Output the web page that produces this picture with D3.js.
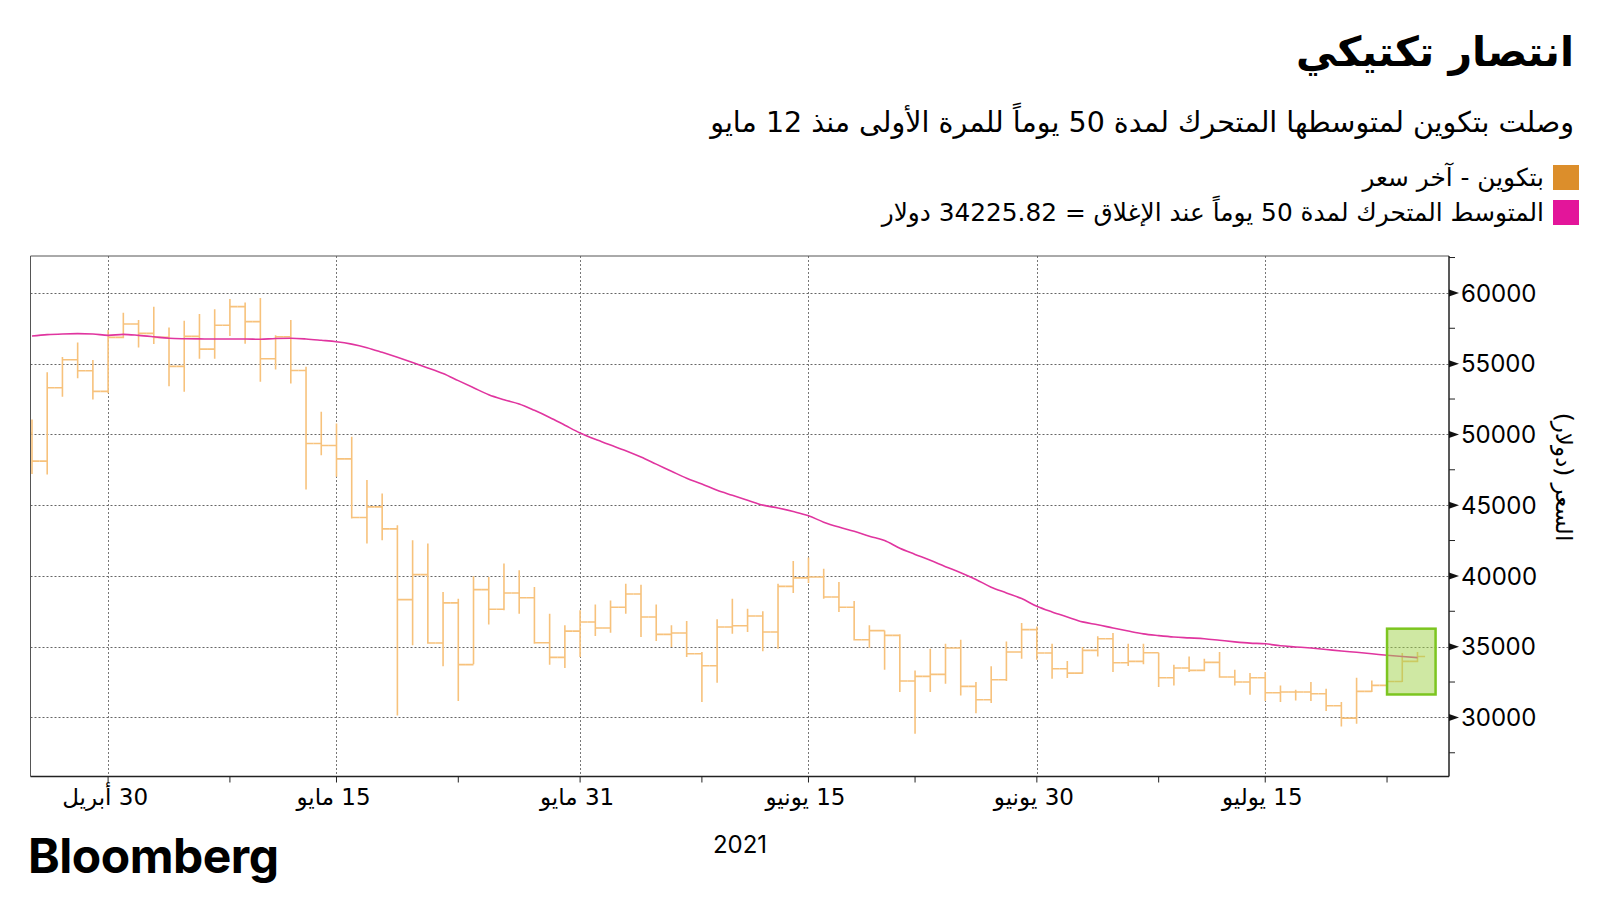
<!DOCTYPE html>
<meta charset="utf-8">
<head>
  <title>انتصار تكتيكي</title>
</head>

<style>
body {
  margin: 0;
  background: #fff;
}
text {
  font-family: Inter, "DejaVu Sans", sans-serif;
  fill: #000;
}
.ar {
  font-family: "DejaVu Sans", sans-serif;
  direction: rtl;
}
</style>

<body>
<script src="https://d3js.org/d3.v7.min.js"></script>

<script>

// daily bars, first one is 25 April 2021
var firstDay = "2021-04-25";

var opens = [50100, 48110, 53300, 55280, 54500, 53040, 56860, 57800, 57140, 56860,
  54810, 56930, 56030, 57710, 59030, 57970, 55350, 56900, 54520, 49360,
  49220, 48270, 44130, 44880, 43320, 38320, 40090, 35260, 38090, 33730,
  39030, 37640, 38790, 38460, 35280, 34240, 36100, 36740, 36320, 37780,
  38720, 37100, 35870, 35960, 34500, 33650, 36390, 36480, 37170, 36030,
  39260, 39860, 39920, 38510, 37780, 35490, 36130, 35800, 32570, 32900,
  33040, 34900, 32190, 31250, 32660, 34620, 36200, 34550, 33440, 33130,
  34740, 35560, 33860, 33960, 34570, 32800, 33490, 33320, 33890, 32850,
  32500, 32800, 31740, 31790, 31790, 31670, 30820, 29950, 31840, 32260,
  32540, 33960];

var highs = [51060, 54400, 55470, 56500, 55250, 57380, 58600, 58080, 59030, 57560,
  58040, 58510, 58840, 59570, 59330, 59640, 57000, 58080, 54780, 51600,
  50770, 49830, 46770, 45820, 43580, 42520, 42290, 38870, 38390, 39970,
  39930, 40870, 40400, 39220, 37330, 36510, 37570, 37970, 38270, 39450,
  39380, 37970, 36510, 36810, 34620, 36930, 38390, 37680, 37500, 39450,
  41060, 41300, 40510, 39570, 38230, 36510, 36150, 35870, 33320, 34850,
  35210, 35490, 32500, 33610, 35370, 36670, 36430, 35210, 33980, 34970,
  35730, 35960, 35210, 35210, 34570, 33720, 34310, 34150, 34620, 33370,
  33130, 33200, 32260, 31950, 32500, 32020, 31080, 32800, 32610, 32700,
  34550, 34620];

var lows = [47200, 47170, 52660, 53960, 52470, 52900, 56800, 56150, 56390, 53410,
  53010, 55350, 55350, 56950, 56410, 53720, 54590, 53600, 46100, 48530,
  47000, 44050, 42290, 42520, 30140, 35090, 35200, 33610, 31160, 33750,
  36560, 37570, 37330, 35200, 33720, 33490, 34270, 35750, 35990, 37330,
  35680, 35400, 34970, 34270, 31080, 32450, 35920, 36030, 34670, 34850,
  38790, 39500, 38390, 37450, 35440, 34930, 33370, 31790, 28840, 31790,
  32380, 31550, 30300, 31010, 32570, 34150, 34080, 32730, 32780, 33090,
  34310, 33200, 33630, 33750, 32140, 32260, 33200, 33270, 32800, 32260,
  31600, 31150, 31080, 31200, 31150, 30450, 29360, 29550, 31790, 32100,
  32500, 33900];

var closes = [48110, 53300, 55280, 54500, 53040, 56860, 57800, 57140, 56860, 54810,
  56930, 56030, 57710, 59030, 57970, 55350, 56900, 54520, 49360, 49220,
  48270, 44130, 44880, 43320, 38320, 40090, 35260, 38090, 33730, 39030,
  37640, 38790, 38460, 35280, 34240, 36100, 36740, 36320, 37780, 38720,
  37100, 35870, 35960, 34500, 33650, 36390, 36480, 37170, 36030, 39260,
  39860, 39920, 38510, 37780, 35490, 36130, 35800, 32570, 32900, 33040,
  34900, 32190, 31250, 32660, 34620, 36200, 34550, 33440, 33130, 34740,
  35560, 33860, 33960, 34570, 32800, 33490, 33320, 33890, 32850, 32500,
  32800, 31740, 31790, 31790, 31670, 30820, 29950, 31840, 32260, 32540,
  33960, 34300];

// 50 day moving average
var ma50 = [56950, 57050, 57100, 57120, 57100, 57000, 57070, 57000, 56900, 56790,
  56760, 56750, 56740, 56740, 56740, 56720, 56780, 56790, 56740, 56650,
  56550, 56380, 56130, 55800, 55450, 55080, 54700, 54300, 53800, 53300,
  52800, 52450, 52150, 51700, 51200, 50650, 50100, 49650, 49250, 48850,
  48400, 47900, 47400, 46900, 46500, 46050, 45700, 45350, 45000, 44800,
  44550, 44250, 43800, 43450, 43150, 42800, 42500, 41950, 41520, 41100,
  40650, 40230, 39750, 39200, 38800, 38400, 37850, 37450, 37100, 36750,
  36550, 36320, 36100, 35900, 35780, 35680, 35620, 35560, 35450, 35340,
  35250, 35200, 35060, 34980, 34900, 34800, 34690, 34600, 34500, 34390,
  34300, 34226];

var priceTicks = [30000, 35000, 40000, 45000, 50000, 55000, 60000];
var priceMinor = [27500, 32500, 37500, 42500, 47500, 52500, 57500, 62500];

var dateTicks = ["2021-04-30", "2021-05-15", "2021-05-31", "2021-06-15", "2021-06-30", "2021-07-15"];
var dateLabels = ["30 أبريل", "15 مايو", "31 مايو", "15 يونيو", "30 يونيو", "15 يوليو"];
var dateMinor = ["2021-05-08", "2021-05-23", "2021-06-08", "2021-06-22", "2021-07-08", "2021-07-23"];

// green highlight over the last days
var boxDates = ["2021-07-23T00:00:00Z", "2021-07-26T04:30:00Z"];
var boxPrices = [31620, 36270];

var title = "انتصار تكتيكي";
var subtitle = "وصلت بتكوين لمتوسطها المتحرك لمدة 50 يوماً للمرة الأولى منذ 12 مايو";
var legendNames = ["بتكوين - آخر سعر", "المتوسط المتحرك لمدة 50 يوماً عند الإغلاق = 34225.82 دولار"];
var legendColors = ["#dc8e2b", "#e3159a"];

var w = 1600, h = 900;
var plot = {left: 30.5, top: 256, right: 1449, bottom: 776.5};

var svg = d3.select("body")
  .append("svg")
  .attr("width", w)
  .attr("height", h);

var x = d3.scaleUtc()
  .domain([new Date(Date.UTC(2021, 3, 24, 21, 40)), new Date(Date.UTC(2021, 6, 27, 1, 40))])
  .range([plot.left, plot.right]);

var y = d3.scaleLinear()
  .domain([25823, 62608])
  .range([plot.bottom, plot.top]);

var day0 = d3.isoParse(firstDay + "T00:00:00Z");
var days = closes.map(function(d, i) { return d3.utcDay.offset(day0, i); });
var hw = (x(days[1]) - x(days[0])) / 2;
var iso = function(s) { return d3.isoParse(s + "T00:00:00Z"); };

svg.append("defs").append("clipPath")
  .attr("id", "clip")
  .append("rect")
  .attr("x", plot.left).attr("y", plot.top)
  .attr("width", plot.right - plot.left).attr("height", plot.bottom - plot.top);

// grid
svg.append("g").selectAll("line")
  .data(priceTicks)
  .join("line")
  .attr("x1", plot.left).attr("x2", plot.right)
  .attr("y1", function(d) { return Math.round(y(d)) + 0.5; })
  .attr("y2", function(d) { return Math.round(y(d)) + 0.5; })
  .attr("stroke", "#666")
  .attr("stroke-dasharray", "2,2");

svg.append("g").selectAll("line")
  .data(dateTicks)
  .join("line")
  .attr("x1", function(d) { return Math.round(x(iso(d))) + 0.5; })
  .attr("x2", function(d) { return Math.round(x(iso(d))) + 0.5; })
  .attr("y1", plot.top).attr("y2", plot.bottom)
  .attr("stroke", "#777")
  .attr("stroke-dasharray", "2,2");

// OHLC bars
var bars = svg.append("g").attr("clip-path", "url(#clip)");
bars.selectAll("path")
  .data(days)
  .join("path")
  .attr("d", function(d, i) {
    var cx = x(d);
    return "M" + cx + "," + y(highs[i]) + "V" + y(lows[i]) +
      "M" + (cx - hw) + "," + y(opens[i]) + "H" + cx +
      "M" + cx + "," + y(closes[i]) + "H" + (cx + hw);
  })
  .attr("fill", "none")
  .attr("stroke", "#f7c27c")
  .attr("stroke-width", 1.6);

// moving average
var maLine = d3.line()
  .x(function(d, i) { return x(days[i]); })
  .y(function(d) { return y(d); })
  .curve(d3.curveMonotoneX);

svg.append("path")
  .datum(ma50)
  .attr("clip-path", "url(#clip)")
  .attr("d", maLine)
  .attr("fill", "none")
  .attr("stroke", "#e0359f")
  .attr("stroke-width", 1.6);

// highlight box
svg.append("rect")
  .attr("x", x(d3.isoParse(boxDates[0])))
  .attr("y", y(boxPrices[1]))
  .attr("width", x(d3.isoParse(boxDates[1])) - x(d3.isoParse(boxDates[0])))
  .attr("height", y(boxPrices[0]) - y(boxPrices[1]))
  .attr("fill", "rgba(159,209,71,0.5)")
  .attr("stroke", "#7cc520")
  .attr("stroke-width", 2.5);

// frame
svg.append("path")
  .attr("d", "M" + plot.right + "," + plot.top + "H" + plot.left + "V" + plot.bottom)
  .attr("fill", "none")
  .attr("stroke", "#555")
  .attr("stroke-width", 1);

// y axis on the right
var yAxis = svg.append("g");
yAxis.append("line")
  .attr("x1", plot.right).attr("x2", plot.right)
  .attr("y1", plot.top).attr("y2", plot.bottom)
  .attr("stroke", "#222").attr("stroke-width", 1.5);

yAxis.selectAll(".minor")
  .data(priceMinor.filter(function(d) { return y(d) > plot.top; }))
  .join("line")
  .attr("class", "minor")
  .attr("x1", plot.right).attr("x2", plot.right + 6)
  .attr("y1", function(d) { return y(d); })
  .attr("y2", function(d) { return y(d); })
  .attr("stroke", "#222");

yAxis.selectAll(".major")
  .data(priceTicks)
  .join("path")
  .attr("class", "major")
  .attr("d", function(d) {
    var ty = y(d);
    return "M" + plot.right + "," + (ty - 3.5) + "L" + (plot.right + 10) + "," + ty + "L" + plot.right + "," + (ty + 3.5) + "Z";
  })
  .attr("fill", "#111");

yAxis.selectAll("text")
  .data(priceTicks)
  .join("text")
  .attr("x", plot.right + 12)
  .attr("y", function(d) { return y(d); })
  .attr("dy", "0.36em")
  .attr("font-size", 24)
  .text(function(d) { return d; });

yAxis.append("text")
  .attr("class", "ar")
  .attr("transform", "translate(1556,477) rotate(90)")
  .attr("text-anchor", "middle")
  .attr("font-size", 23)
  .text("السعر (دولار)");

// x axis
var xAxis = svg.append("g");
xAxis.append("line")
  .attr("x1", plot.left).attr("x2", plot.right)
  .attr("y1", plot.bottom).attr("y2", plot.bottom)
  .attr("stroke", "#222").attr("stroke-width", 1.5);

xAxis.selectAll(".tick")
  .data(dateTicks.concat(dateMinor))
  .join("line")
  .attr("class", "tick")
  .attr("x1", function(d) { return x(iso(d)); })
  .attr("x2", function(d) { return x(iso(d)); })
  .attr("y1", plot.bottom).attr("y2", plot.bottom + 6)
  .attr("stroke", "#222");

xAxis.selectAll(".lab")
  .data(dateTicks)
  .join("text")
  .attr("class", "lab ar")
  .attr("x", function(d) { return x(iso(d)) - 3; })
  .attr("y", 805)
  .attr("text-anchor", "middle")
  .attr("font-size", 23)
  .text(function(d, i) { return dateLabels[i]; });

svg.append("text")
  .attr("x", 740)
  .attr("y", 853)
  .attr("text-anchor", "middle")
  .attr("font-size", 24)
  .text("2021");

// titles
svg.append("text")
  .attr("class", "ar")
  .attr("x", 1574).attr("y", 66)
  .attr("text-anchor", "start")
  .attr("font-size", 41)
  .attr("font-weight", "bold")
  .text(title);

svg.append("text")
  .attr("class", "ar")
  .attr("x", 1574).attr("y", 132)
  .attr("text-anchor", "start")
  .attr("font-size", 28.5)
  .text(subtitle);

// legend
var legend = svg.append("g").selectAll("g")
  .data(legendNames)
  .join("g")
  .attr("transform", function(d, i) { return "translate(0," + (i * 35) + ")"; });

legend.append("rect")
  .attr("x", 1553).attr("y", 165)
  .attr("width", 26).attr("height", 25)
  .attr("fill", function(d, i) { return legendColors[i]; });

legend.append("text")
  .attr("class", "ar")
  .attr("x", 1544).attr("y", 186)
  .attr("text-anchor", "start")
  .attr("font-size", 24.8)
  .text(function(d) { return d; });

// logo
svg.append("text")
  .attr("x", 28).attr("y", 873)
  .attr("font-family", "'Liberation Sans', Arial, sans-serif")
  .attr("font-weight", "bold")
  .attr("font-size", 48)
  .attr("letter-spacing", -0.5)
  .text("Bloomberg");

</script>
</body>
</html>
